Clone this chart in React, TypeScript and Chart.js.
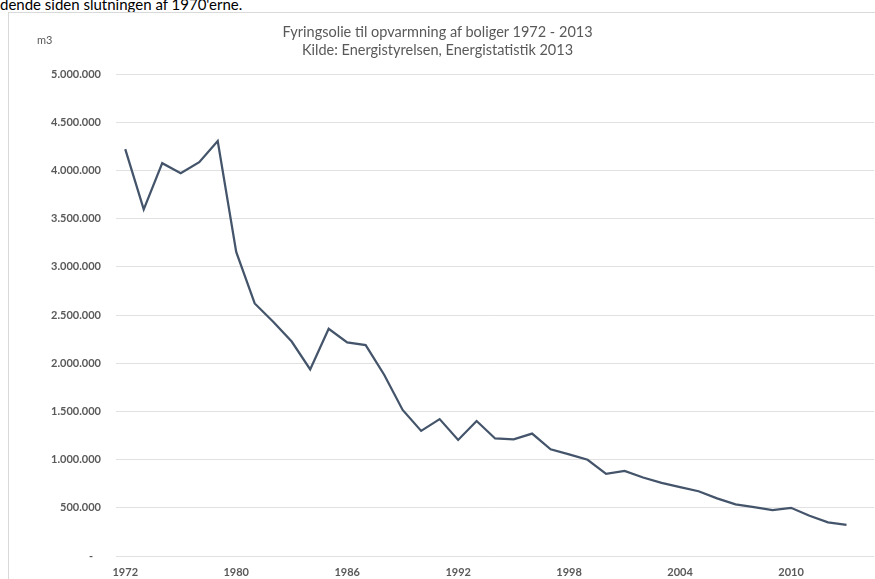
import React, { useEffect, useRef } from 'react';
import { Chart, registerables } from 'chart.js';

Chart.register(...registerables);

// Categories (the source series skips 1973-1974); a trailing blank category pads the axis like the Excel plot area
const years: string[] = [
  '1972', '1975', '1976', '1977', '1978', '1979',
  '1980', '1981', '1982', '1983', '1984', '1985', '1986', '1987', '1988', '1989',
  '1990', '1991', '1992', '1993', '1994', '1995', '1996', '1997', '1998', '1999',
  '2000', '2001', '2002', '2003', '2004', '2005', '2006', '2007', '2008', '2009',
  '2010', '2011', '2012', '2013', '',
];

// Fyringsolie (m3)
const oilM3: (number | null)[] = [
  4220000, 3595000, 4075000, 3970000, 4085000, 4305000,
  3155000, 2620000, 2430000, 2225000, 1935000, 2357000, 2215000, 2188000, 1880000, 1515000,
  1298000, 1420000, 1204000, 1400000, 1219000, 1210000, 1270000, 1107000, 1055000, 998000,
  852000, 883000, 814000, 759000, 714000, 672000, 598000, 535000, 507000, 477000,
  500000, 417000, 349000, 324000, null,
];

const titleLines: string[] = [
  'Fyringsolie til opvarmning af boliger 1972 - 2013',
  'Kilde: Energistyrelsen, Energistatistik 2013',
];
const unitLabel = 'm3';
const introText = "dende siden slutningen af 1970'erne.";

const yMax = 5000000;
const yStep = 500000;

function fmt(v: number): string {
  if (v === 0) return '-   ';
  return String(Math.round(v)).replace(/\B(?=(\d{3})+(?!\d))/g, '.');
}

export default function App() {
  const ref = useRef<HTMLCanvasElement | null>(null);

  useEffect(() => {
    if (!ref.current) return;
    const chart = new Chart(ref.current, {
      type: 'line',
      data: {
        labels: years,
        datasets: [
          {
            label: 'Fyringsolie',
            data: oilM3,
            borderColor: '#44546A',
            backgroundColor: '#44546A',
            borderWidth: 2.25,
            pointRadius: 0,
            tension: 0,
            spanGaps: false,
          },
        ],
      },
      options: {
        animation: false,
        responsive: false,
        devicePixelRatio: 1,
        layout: { padding: { top: 74, left: 0, right: 0, bottom: 0 } },
        plugins: {
          legend: { display: false },
          title: { display: false },
          tooltip: { enabled: false },
        },
        scales: {
          x: {
            type: 'category',
            offset: true,
            grid: { display: false, drawTicks: false },
            border: { display: false },
            ticks: {
              autoSkip: false,
              maxRotation: 0,
              minRotation: 0,
              padding: 10,
              color: '#595959',
              font: { family: 'Lato', size: 11, weight: 'bold' },
              callback: (_v: any, i: number) => (i % 6 === 0 ? years[i] : ''),
            },
            afterFit: (s: any) => {
              s.height = 23;
            },
          },
          y: {
            min: 0,
            max: yMax,
            grid: { color: '#e1e1e1', lineWidth: 1, drawTicks: false },
            border: { display: false },
            ticks: {
              stepSize: yStep,
              padding: 15,
              color: '#595959',
              font: { family: 'Lato', size: 11, weight: 'bold' },
              callback: (v: any) => fmt(Number(v)),
            },
            afterFit: (s: any) => {
              s.width = 116;
            },
          },
        },
      },
    });
    return () => chart.destroy();
  }, []);

  return (
    <div
      style={{
        position: 'fixed',
        left: 0,
        top: 0,
        width: 875,
        height: 579,
        overflow: 'hidden',
        background: '#ffffff',
      }}
    >
      <div
        style={{
          position: 'absolute',
          left: 0,
          top: -5,
          fontFamily: 'Lato, sans-serif',
          fontSize: 15,
          lineHeight: '18px',
          color: '#000000',
          whiteSpace: 'nowrap',
        }}
      >
        {introText}
      </div>
      <div
        style={{
          position: 'absolute',
          left: 8,
          top: 12,
          width: 900,
          height: 600,
          border: '1px solid #d9d9d9',
          boxSizing: 'border-box',
        }}
      />
      <canvas
        ref={ref}
        width={875}
        height={579}
        style={{ position: 'absolute', left: 0, top: 0, width: 875, height: 579 }}
      />
      <div
        style={{
          position: 'absolute',
          left: 0,
          top: 23,
          width: 875,
          textAlign: 'center',
          fontFamily: 'Lato, sans-serif',
          fontSize: 14.5,
          lineHeight: '18px',
          color: '#595959',
        }}
      >
        <div>{titleLines[0]}</div>
        <div>{titleLines[1]}</div>
      </div>
      <div
        style={{
          position: 'absolute',
          left: 37,
          top: 33,
          fontFamily: 'Lato, sans-serif',
          fontSize: 11,
          color: '#595959',
        }}
      >
        {unitLabel}
      </div>
    </div>
  );
}
